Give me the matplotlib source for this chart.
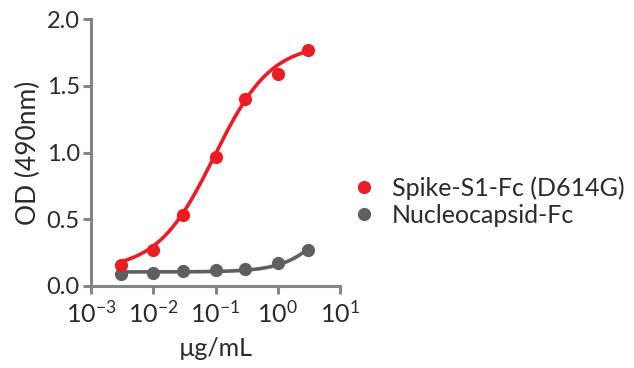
import numpy as np
import matplotlib
matplotlib.use("Agg")
import matplotlib.pyplot as plt

plt.rcParams['font.family'] = ['Lato', 'DejaVu Sans']
plt.rcParams['font.weight'] = 'normal'
plt.rcParams['mathtext.fontset'] = 'custom'
plt.rcParams['mathtext.rm'] = 'Lato'
plt.rcParams['mathtext.it'] = 'Lato'
plt.rcParams['mathtext.default'] = 'rm'

# concentration (ug/mL)
conc = [0.003, 0.01, 0.03, 0.1, 0.3, 1.0, 3.0]
spike = [0.16, 0.27, 0.53, 0.97, 1.40, 1.59, 1.77]
nucleo = [0.09, 0.10, 0.11, 0.12, 0.13, 0.17, 0.27]

# 4PL fit parameters: bottom, top, ec50, hill
spike_fit = [0.12, 1.82, 0.095, 0.95]
nucleo_fit = [0.105, 1.0, 10.0, 1.2]

xticks = [1e-3, 1e-2, 1e-1, 1e0, 1e1]
xticklabels = ['10$^{-3}$', '10$^{-2}$', '10$^{-1}$', '10$^{0}$', '10$^{1}$']
yticks = [0.0, 0.5, 1.0, 1.5, 2.0]

red = '#ec1c24'
grey = '#5f5f5f'
axis_col = '#858585'
text_col = '#2a2a2a'


def four_pl(x, p):
    b, t, c, h = p
    return b + (t - b) / (1 + (c / x) ** h)


fig = plt.figure(figsize=(6.34, 3.68), dpi=100)
ax = fig.add_axes([0.1435, 0.223, 0.393, 0.725])

xs = np.logspace(np.log10(conc[0]), np.log10(conc[-1]), 200)
ax.plot(xs, four_pl(xs, spike_fit), color=red, lw=2.6, zorder=3)
ax.plot(xs, four_pl(xs, nucleo_fit), color=grey, lw=2.6, zorder=2)
ax.plot(conc, spike, 'o', color=red, ms=8.5, zorder=4, label='Spike-S1-Fc (D614G)')
ax.plot(conc, nucleo, 'o', color=grey, ms=8.5, zorder=3, label='Nucleocapsid-Fc')

ax.set_xscale('log')
ax.set_xlim(1e-3, 1e1)
ax.set_ylim(0, 2.0)
ax.set_xticks(xticks)
ax.set_xticklabels(xticklabels)
ax.minorticks_off()
ax.set_yticks(yticks)
ax.set_yticklabels(['%.1f' % v for v in yticks])

for s in ['top', 'right']:
    ax.spines[s].set_visible(False)
for s in ['left', 'bottom']:
    ax.spines[s].set_color(axis_col)
    ax.spines[s].set_linewidth(2.2)
ax.tick_params(color=axis_col, width=2.2, length=6, pad=2, labelsize=17)
ax.tick_params(axis='x', pad=4, labelsize=18)
ax.tick_params(labelcolor=text_col)

ax.set_xlabel('µg/mL', fontsize=18, color=text_col, labelpad=8)
ax.set_ylabel('OD (490nm)', fontsize=19, color=text_col, labelpad=4)

leg = fig.legend(loc='center left', bbox_to_anchor=(0.515, 0.452),
                 frameon=False, fontsize=18, handletextpad=0.5,
                 labelspacing=0.15, handlelength=1.2)
for t in leg.get_texts():
    t.set_color(text_col)

fig.savefig('out.png', dpi=100)
